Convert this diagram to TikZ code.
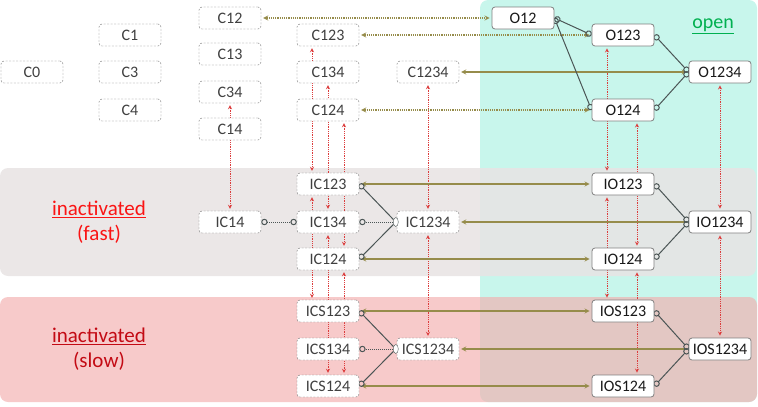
\documentclass[tikz,border=0pt]{standalone}
\usepackage{fontspec}
\setmainfont{Carlito}
\usepackage{tikz}
\usetikzlibrary{arrows}
\usetikzlibrary{shapes.geometric, positioning}
\usepackage{xcolor}

\definecolor{openbg}{RGB}{200,246,236}
\definecolor{fastbg}{RGB}{232,228,228}
\definecolor{slowbg}{RGB}{243,174,174}
\definecolor{olivel}{RGB}{150,140,75}
\definecolor{redl}{RGB}{220,60,60}
\definecolor{netl}{RGB}{75,85,85}
\definecolor{opengreen}{RGB}{0,176,80}
\definecolor{fastred}{RGB}{250,20,20}
\definecolor{slowred}{RGB}{195,10,20}

\pgfdeclarelayer{back}
\pgfdeclarelayer{links}
\pgfsetlayers{back,links,main}

\begin{document}
\begin{tikzpicture}[x=1pt, y=-1pt,
    cbox/.style={draw=black!55, dash pattern=on 2pt off 1.5pt, fill=white, rounded corners=3pt, minimum width=62pt, minimum height=22pt, inner sep=0pt, text=black!75, font=\fontsize{16}{17}\selectfont},
    obox/.style={draw=gray, thick, fill=white, rounded corners=3pt, minimum width=62pt, minimum height=22pt, inner sep=0pt, text=black!90, font=\fontsize{16}{17}\selectfont},
    vlink/.style={<->, >=stealth, redl, densely dotted, thick, shorten <=2pt, shorten >=2pt},
    hlink/.style={>=stealth, olivel, line width=1.2pt, shorten <=2pt, shorten >=2pt},
    nlink/.style={netl, line width=1pt},
    joindot/.style={ellipse, draw=netl, fill=white, inner sep=0pt, minimum width=5pt, minimum height=9pt}]
      \useasboundingbox (0, 0) rectangle (758, 407);

      % state bands
      \begin{pgfonlayer}{back}
        \fill[openbg, rounded corners=8pt] (480, 0) rectangle (757, 402);
        \fill[fastbg, rounded corners=8pt, fill opacity=0.87] (0, 168) rectangle (756, 276);
        \fill[slowbg, rounded corners=8pt, fill opacity=0.65] (0, 297) rectangle (757, 402);
      \end{pgfonlayer}

      \node[text=opengreen, font=\fontsize{20}{24}\selectfont] (lopen) at (713, 26) {\underline{open}};
      \node[text=fastred, align=center, font=\fontsize{21}{25}\selectfont] (lfast) at (99, 222) {\underline{inactivated}\\(fast)};
      \node[text=slowred, align=center, font=\fontsize{21}{25}\selectfont] (lslow) at (99, 349) {\underline{inactivated}\\(slow)};

      % closed
      \node[cbox] (C0) at (32, 72) {C0};
      \node[cbox] (C1) at (130, 35) {C1};
      \node[cbox] (C3) at (130, 72) {C3};
      \node[cbox] (C4) at (130, 110) {C4};
      \node[cbox] (C12) at (230, 18) {C12};
      \node[cbox] (C13) at (230, 54) {C13};
      \node[cbox] (C34) at (230, 92) {C34};
      \node[cbox] (C14) at (230, 129) {C14};
      \node[cbox] (C123) at (328, 35) {C123};
      \node[cbox] (C134) at (328, 72) {C134};
      \node[cbox] (C124) at (328, 110) {C124};
      \node[cbox] (C1234) at (428, 72) {C1234};

      % open
      \node[obox] (O12) at (523, 18) {O12};
      \node[obox] (O123) at (623, 35) {O123};
      \node[obox] (O124) at (623, 110) {O124};
      \node[obox] (O1234) at (720, 72) {O1234};

      % fast inactivated
      \node[cbox] (IC14) at (230, 222) {IC14};
      \node[cbox] (IC123) at (328, 184) {IC123};
      \node[cbox] (IC134) at (328, 222) {IC134};
      \node[cbox] (IC124) at (328, 259) {IC124};
      \node[cbox] (IC1234) at (428, 222) {IC1234};
      \node[obox] (IO123) at (623, 184) {IO123};
      \node[obox] (IO124) at (623, 259) {IO124};
      \node[obox] (IO1234) at (720, 222) {IO1234};
      \node[joindot] (icjoin) at ([xshift=-1pt]IC1234.west) {};

      % slow inactivated
      \node[cbox] (ICS123) at (328, 311) {ICS123};
      \node[cbox] (ICS134) at (328, 349) {ICS134};
      \node[cbox] (ICS124) at (328, 386) {ICS124};
      \node[cbox] (ICS1234) at (428, 349) {ICS1234};
      \node[obox] (IOS123) at (623, 311) {IOS123};
      \node[obox] (IOS124) at (623, 386) {IOS124};
      \node[obox] (IOS1234) at (720, 349) {IOS1234};
      \node[joindot] (icsjoin) at ([xshift=-1pt]ICS1234.west) {};

      \begin{pgfonlayer}{links}
        % closed/open to inactivated
        \draw[vlink] ([xshift=-16pt]C123.south) -- ([xshift=-16pt]IC123.north);
        \draw[vlink] (C134.south) -- (IC134.north);
        \draw[vlink] ([xshift=16pt]C124.south) -- ([xshift=16pt]IC124.north);
        \draw[vlink] (C34.south) -- (IC14.north);
        \draw[vlink] (C1234.south) -- (IC1234.north);
        \draw[vlink] ([xshift=-16pt]O123.south) -- ([xshift=-16pt]IO123.north);
        \draw[vlink] ([xshift=14pt]O124.south) -- ([xshift=14pt]IO124.north);
        \draw[vlink] (O1234.south) -- (IO1234.north);
        % fast to slow
        \draw[vlink] ([xshift=-16pt]IC123.south) -- ([xshift=-16pt]ICS123.north);
        \draw[vlink] (IC134.south) -- (ICS124.north);
        \draw[vlink] ([xshift=16pt]IC124.south) -- ([xshift=16pt]ICS124.north);
        \draw[vlink] (IC1234.south) -- (ICS1234.north);
        \draw[vlink] ([xshift=-16pt]IO123.south) -- ([xshift=-16pt]IOS123.north);
        \draw[vlink] ([xshift=14pt]IO124.south) -- ([xshift=14pt]IOS124.north);
        \draw[vlink] (IO1234.south) -- (IOS1234.north);

        % closed to open
        \draw[hlink, <->, densely dotted] (C12) -- (O12);
        \draw[hlink, <->, densely dotted] (C123) -- (O123);
        \draw[hlink, <->] (C1234) -- (O1234);
        \draw[hlink, <->, densely dotted] (C124) -- (O124);
        \draw[hlink, <->] (IC123) -- (IO123);
        \draw[hlink, ->] (IO1234) -- (IC1234);
        \draw[hlink, <->] (IC124) -- (IO124);
        \draw[hlink, <->] (ICS123) -- (IOS123);
        \draw[hlink, ->] (IOS1234) -- (ICS1234);
        \draw[hlink, <->] (ICS124) -- (IOS124);

        % within a band
        \draw[nlink, o-o] (O12.east) -- (O123.west);
        \draw[nlink, o-o] (O12.east) -- (O124.west);
        \draw[nlink, o-o] (O123.east) -- (O1234.west);
        \draw[nlink, o-o] (O124.east) -- (O1234.west);
        \draw[nlink, o-o, densely dotted] (IC14) -- (IC134);
        \draw[nlink, -o] (icjoin) -- (IC123.east);
        \draw[nlink, -o, densely dotted] (icjoin) -- (IC134.east);
        \draw[nlink, -o] (icjoin) -- (IC124.east);
        \draw[nlink, o-o] (IO1234.west) -- (IO123.east);
        \draw[nlink, o-o] (IO1234.west) -- (IO124.east);
        \draw[nlink, -o] (icsjoin) -- (ICS123.east);
        \draw[nlink, -o, densely dotted] (icsjoin) -- (ICS134.east);
        \draw[nlink, -o] (icsjoin) -- (ICS124.east);
        \draw[nlink, o-o] (IOS1234.west) -- (IOS123.east);
        \draw[nlink, o-o] (IOS1234.west) -- (IOS124.east);
      \end{pgfonlayer}

    \end{tikzpicture}
\end{document}
